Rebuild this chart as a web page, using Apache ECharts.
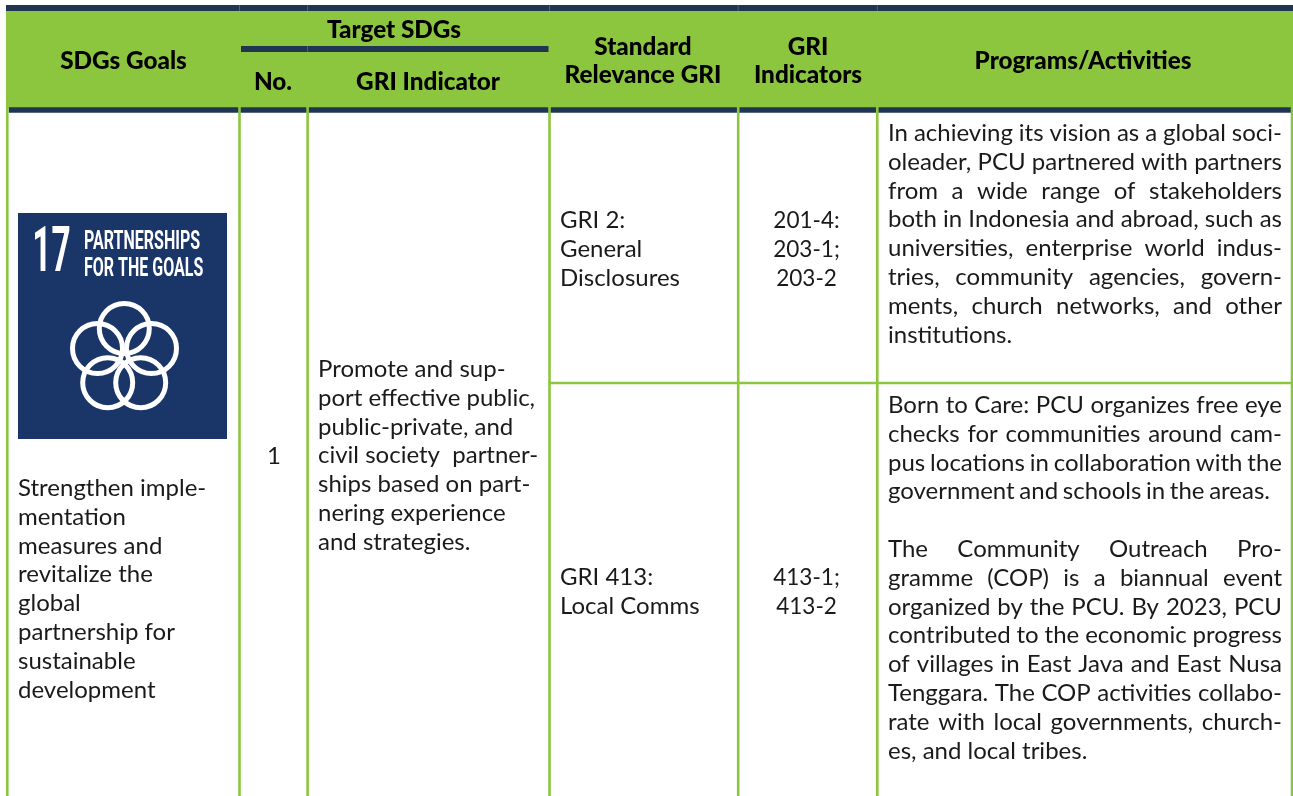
<!DOCTYPE html>
<html>
<head>
<meta charset="utf-8">
<style>
  html, body { margin: 0; padding: 0; background: #fff; }
  #main { width: 1293px; height: 796px; }
</style>
<script src="https://cdn.jsdelivr.net/npm/echarts@6/dist/echarts.min.js"></script>
</head>
<body>
<div id="main"></div>
<script>
// table content
var goalHeader = "SDGs Goals";
var targetHeader = "Target SDGs";
var noHeader = "No.";
var griIndicatorHeader = "GRI Indicator";
var standardHeader = ["Standard", "Relevance GRI"];
var indicatorsHeader = ["GRI", "Indicators"];
var programsHeader = "Programs/Activities";

var goalLines = ["Strengthen imple-", "mentation", "measures and", "revitalize the", "global", "partnership for", "sustainable", "development"];
var rowNo = "1";
var griIndicatorLines = ["Promote and sup-", "port effective public,", "public-private, and", "civil society  partner-", "ships based on part-", "nering experience", "and strategies."];
var standardRows = [["GRI 2:", "General", "Disclosures"], ["GRI 413:", "Local Comms"]];
var indicatorRows = [["201-4:", "203-1;", "203-2"], ["413-1;", "413-2"]];
var programParagraph1 = ["In achieving its vision as a global soci-", "oleader, PCU partnered with partners", "from a wide range of stakeholders", "both in Indonesia and abroad, such as", "universities, enterprise world indus-", "tries, community agencies, govern-", "ments, church networks, and other", "institutions."];
var programParagraph2 = ["Born to Care: PCU organizes free eye", "checks for communities around cam-", "pus locations in collaboration with the", "government and schools in the areas."];
var programParagraph3 = ["The Community Outreach Pro-", "gramme (COP) is a biannual event", "organized by the PCU. By 2023, PCU", "contributed to the economic progress", "of villages in East Java and East Nusa", "Tenggara. The COP activities collabo-", "rate with local governments, church-", "es, and local tribes."];
var iconNumber = "17";
var iconTitle = ["PARTNERSHIPS", "FOR THE GOALS"];

// layout, in page pixels
var GREEN = "#8cc63f";
var NAVY = "#1f3552";
var INK = "#1a1a1a";
var BODY_FONT = "24px Lato, sans-serif";
var HEAD_FONT = "900 24.3px Lato, sans-serif";
var LINE = 28.85;
var colLines = [239.5, 307.6, 549.5, 738.2, 877.3];

var rects = [
  { box: [6, 5, 1293, 108], color: GREEN },
  { box: [6, 5, 1293, 11], color: NAVY },
  { box: [241, 46, 548.5, 52], color: NAVY },
  { box: [8.7, 107.3, 1293, 112.7], color: NAVY },
  { box: [18, 213, 227, 439], color: "#1a3668" }
];
var rules = [
  { from: [7.3, 107], to: [7.3, 796], width: 2.6, color: GREEN },
  { from: [549, 383], to: [1293, 383], width: 2.6, color: GREEN },
  { from: [1292, 107], to: [1292, 796], width: 2.6, color: GREEN }
];
colLines.forEach(function (x) {
  rules.push({ from: [x, 107], to: [x, 796], width: 2.6, color: GREEN });
  rules.push({ from: [x, 5], to: [x, 11], width: 1, color: "#4d6272" });
});
rules.push({ from: [307.6, 46], to: [307.6, 52], width: 1, color: "#4d6272" });

var rings = [[124.3, 328.5], [97.5, 348.5], [151.5, 348.5], [107.7, 382.7], [140.7, 382.7]];

var ctx = document.createElement("canvas").getContext("2d");
var labels = [];

function addText(text, x, y, font, align, color, scaleX) {
  labels.push({ text: text, x: x, y: y, font: font, align: align || "left", color: color || INK, scaleX: scaleX || 1 });
}

function addBlock(lines, x, y, align, scaleX) {
  lines.forEach(function (line, i) {
    addText(line, x, y + i * LINE, BODY_FONT, align, INK, scaleX);
  });
}

// spread the words over the column, a last line only gets spread if lastEnd is given
function addJustified(lines, x0, x1, y, lastEnd) {
  ctx.font = BODY_FONT;
  lines.forEach(function (line, i) {
    var ly = y + i * LINE;
    var end = x1;
    if (i == lines.length - 1) {
      if (!lastEnd) {
        addText(line, x0, ly, BODY_FONT);
        return;
      }
      end = lastEnd;
    }
    var words = line.split(" ");
    var used = 0;
    words.forEach(function (w) { used += ctx.measureText(w).width; });
    var gap = (end - x0 - used) / (words.length - 1);
    var x = x0;
    words.forEach(function (w) {
      addText(w, x, ly, BODY_FONT);
      x += ctx.measureText(w).width + gap;
    });
  });
}

addText(goalHeader, 123.5, 61, HEAD_FONT, "center", "#000");
addText(targetHeader, 394, 30, HEAD_FONT, "center", "#000");
addText(noHeader, 273, 82, HEAD_FONT, "center", "#000");
addText(griIndicatorHeader, 428, 82, HEAD_FONT, "center", "#000");
addText(standardHeader[0], 643, 47, HEAD_FONT, "center", "#000");
addText(standardHeader[1], 643, 75, HEAD_FONT, "center", "#000");
addText(indicatorsHeader[0], 808, 47, HEAD_FONT, "center", "#000");
addText(indicatorsHeader[1], 808, 75, HEAD_FONT, "center", "#000");
addText(programsHeader, 1083, 61, HEAD_FONT, "center", "#000");

addBlock(goalLines, 18, 488.2);
addText(rowNo, 274, 456.2, BODY_FONT, "center");
addBlock(griIndicatorLines, 318, 369.2);
addBlock(standardRows[0], 560, 220.2);
addBlock(standardRows[1], 560, 577.2);
addBlock(indicatorRows[0], 806.5, 220.2, "center", 0.94);
addBlock(indicatorRows[1], 806.5, 577.2, "center", 0.94);
addJustified(programParagraph1, 888, 1282, 133.2);
addJustified(programParagraph2, 888, 1282, 405.2, 1270);
addJustified(programParagraph3, 888, 1282, 549.2);

addText(iconNumber, 51.5, 255, "bold 63px Roboto, sans-serif", "center", "#fff", 0.53);
addText(iconTitle[0], 84, 242, "bold 26.7px Roboto, sans-serif", "left", "#fff", 0.6);
addText(iconTitle[1], 84, 269, "bold 26.7px Roboto, sans-serif", "left", "#fff", 0.6);

var option = {
  animation: false,
  backgroundColor: "#fff",
  grid: { left: 0, right: 0, top: 0, bottom: 0 },
  xAxis: { type: "value", min: 0, max: 1293, show: false },
  yAxis: { type: "value", min: 0, max: 796, inverse: true, show: false },
  series: [
    {
      type: "custom",
      silent: true,
      clip: false,
      z: 1,
      data: rects.map(function (r) { return r.box; }),
      renderItem: function (params, api) {
        var a = api.coord([api.value(0), api.value(1)]);
        var b = api.coord([api.value(2), api.value(3)]);
        return {
          type: "rect",
          shape: { x: a[0], y: a[1], width: b[0] - a[0], height: b[1] - a[1] },
          style: { fill: rects[params.dataIndex].color }
        };
      }
    },
    {
      type: "custom",
      silent: true,
      clip: false,
      z: 2,
      data: rules.map(function (r) { return r.from.concat(r.to); }),
      renderItem: function (params, api) {
        var a = api.coord([api.value(0), api.value(1)]);
        var b = api.coord([api.value(2), api.value(3)]);
        var r = rules[params.dataIndex];
        return {
          type: "line",
          shape: { x1: a[0], y1: a[1], x2: b[0], y2: b[1] },
          style: { stroke: r.color, lineWidth: r.width }
        };
      }
    },
    {
      type: "custom",
      silent: true,
      clip: false,
      z: 3,
      data: rings,
      renderItem: function (params, api) {
        var c = api.coord([api.value(0), api.value(1)]);
        return {
          type: "circle",
          shape: { cx: c[0], cy: c[1], r: 25 },
          style: { fill: "none", stroke: "#fff", lineWidth: 5 }
        };
      }
    },
    {
      type: "custom",
      silent: true,
      clip: false,
      z: 4,
      data: labels.map(function (l) { return [l.x, l.y]; }),
      renderItem: function (params, api) {
        var c = api.coord([api.value(0), api.value(1)]);
        var l = labels[params.dataIndex];
        return {
          type: "text",
          x: c[0],
          y: c[1],
          originX: 0,
          originY: 0,
          scaleX: l.scaleX,
          style: { text: l.text, font: l.font, fill: l.color, align: l.align, verticalAlign: "middle" }
        };
      }
    }
  ]
};

var chart = echarts.init(document.getElementById("main"), null, { renderer: "canvas" });
chart.setOption(option);
</script>
</body>
</html>
